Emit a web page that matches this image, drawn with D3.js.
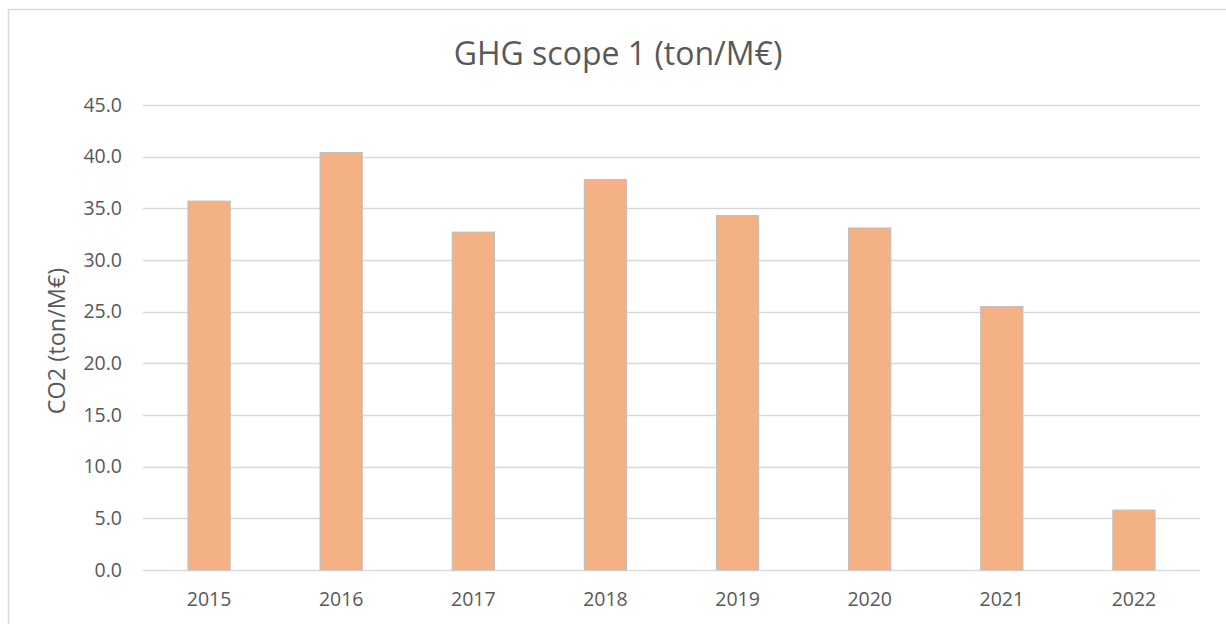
<!DOCTYPE html>
<html>
<head>
<meta charset="utf-8">
<script src="https://cdn.jsdelivr.net/npm/d3@7"></script>
<style>
  body { margin: 0; background: #fff; }
  text { font-family: 'Open Sans', 'Noto Sans', sans-serif; fill: #595959; }
</style>
</head>
<body>
<div id="app"></div>
<script>
// chart data
const years = ['2015', '2016', '2017', '2018', '2019', '2020', '2021', '2022'];
const co2Values = [35.7, 40.4, 32.7, 37.8, 34.3, 33.1, 25.5, 5.8];
const yTicks = [0, 5, 10, 15, 20, 25, 30, 35, 40, 45];

const width = 1226;
const height = 624;
const margin = { top: 105, right: 26, bottom: 54, left: 143 };

const svg = d3
  .select('#app')
  .append('svg')
  .attr('width', width)
  .attr('height', height);

// outer chart frame
svg
  .append('rect')
  .attr('x', 8.5)
  .attr('y', 9.5)
  .attr('width', width)
  .attr('height', height)
  .attr('fill', 'none')
  .attr('stroke', '#d9d9d9')
  .attr('stroke-width', 1.5);

const x = d3
  .scaleBand()
  .domain(years)
  .range([margin.left, width - margin.right])
  .paddingInner(0.68)
  .paddingOuter(0.34);

const y = d3
  .scaleLinear()
  .domain([0, 45])
  .range([height - margin.bottom, margin.top]);

// gridlines
svg
  .append('g')
  .selectAll('line')
  .data(yTicks)
  .enter()
  .append('line')
  .attr('x1', margin.left)
  .attr('x2', width - margin.right)
  .attr('y1', (d) => Math.round(y(d)) + 0.5)
  .attr('y2', (d) => Math.round(y(d)) + 0.5)
  .attr('stroke', '#d9d9d9')
  .attr('stroke-width', 1.3);

// bars
svg
  .append('g')
  .selectAll('rect')
  .data(co2Values)
  .enter()
  .append('rect')
  .attr('x', (d, i) => x(years[i]))
  .attr('y', (d) => y(d))
  .attr('width', x.bandwidth())
  .attr('height', (d) => y(0) - y(d))
  .attr('fill', '#f4b183')
  .attr('stroke', '#bfbfbf')
  .attr('stroke-width', 1);

// y axis labels
const yAxis = svg
  .append('g')
  .attr('transform', `translate(${margin.left - 21},0)`)
  .call(d3.axisLeft(y).tickValues(yTicks).tickFormat(d3.format('.1f')).tickSize(0).tickPadding(0));
yAxis.select('.domain').remove();
yAxis.selectAll('text').style('font-size', '19.5px').style('fill', '#595959').style('font-family', "'Open Sans', sans-serif");

// x axis labels
const xAxis = svg
  .append('g')
  .attr('transform', `translate(0,${height - margin.bottom})`)
  .call(d3.axisBottom(x).tickSize(0).tickPadding(22));
xAxis.select('.domain').remove();
xAxis.selectAll('text').style('font-size', '19.5px').style('fill', '#595959').style('font-family', "'Open Sans', sans-serif");

// title
svg
  .append('text')
  .attr('x', 618)
  .attr('y', 65)
  .attr('text-anchor', 'middle')
  .style('font-size', '32px')
  .text('GHG scope 1 (ton/M€)');

// y axis title
svg
  .append('text')
  .attr('transform', `translate(65,341) rotate(-90)`)
  .attr('text-anchor', 'middle')
  .style('font-size', '23.5px')
  .text('CO2 (ton/M€)');
</script>
</body>
</html>
